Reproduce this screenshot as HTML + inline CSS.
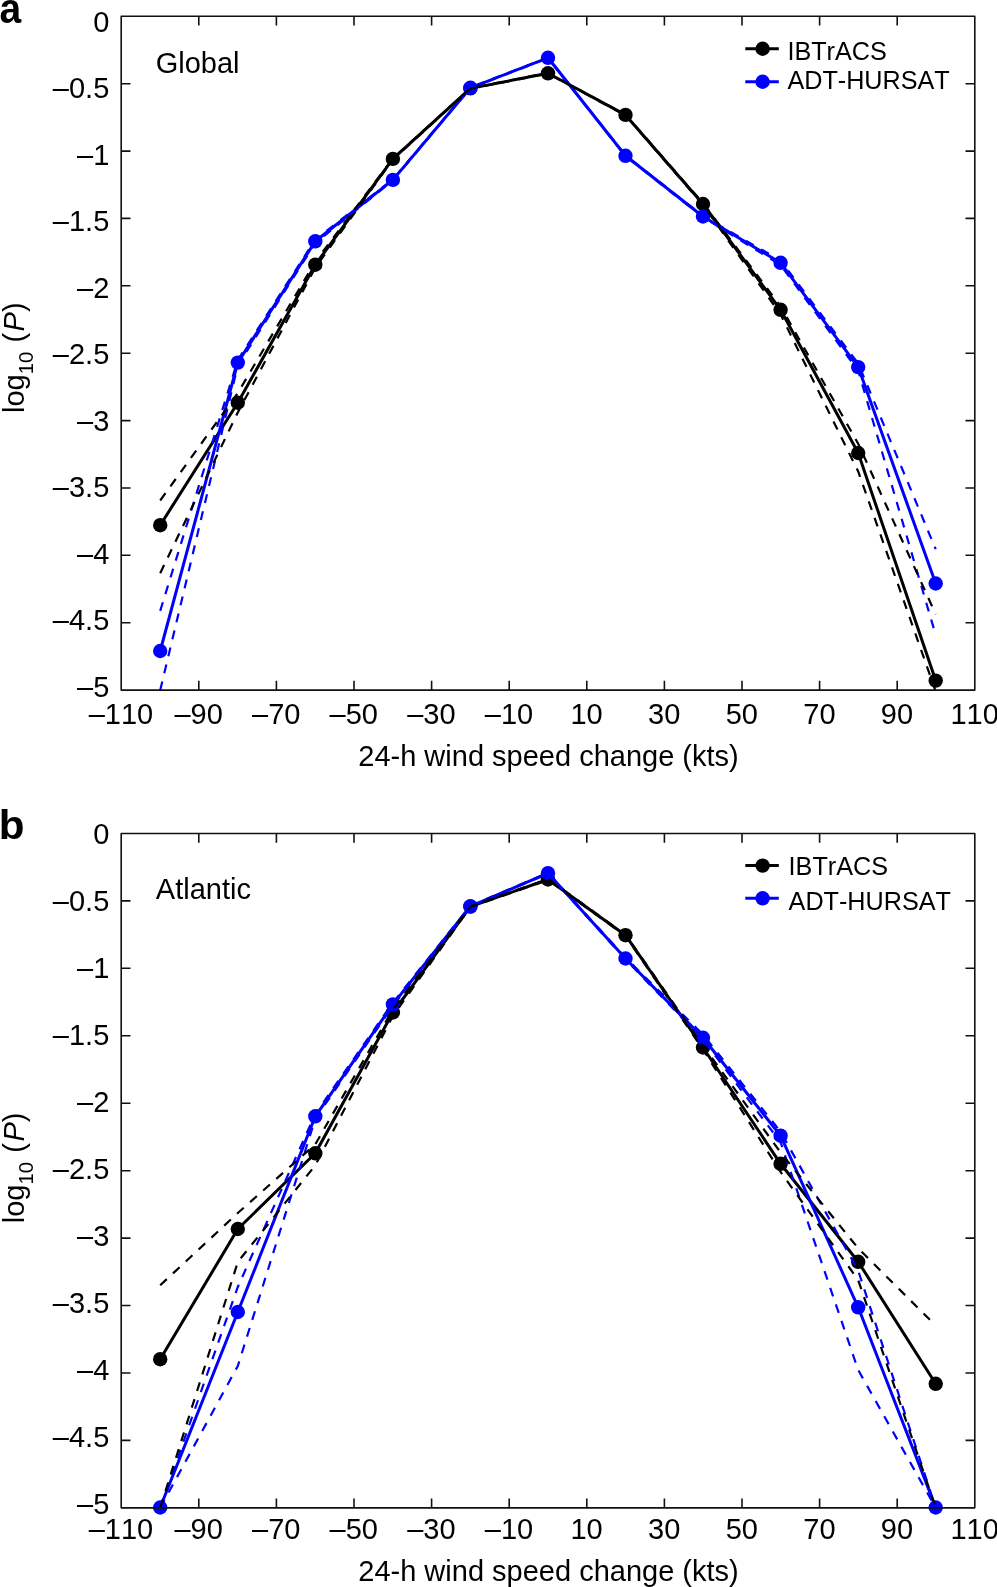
<!DOCTYPE html>
<html><head><meta charset="utf-8"><title>Figure</title>
<style>
html,body{margin:0;padding:0;background:#fff;}
body{width:997px;height:1587px;overflow:hidden;}
svg{display:block;will-change:transform;}
text{font-family:"Liberation Sans",sans-serif;fill:#000;}
.t{font-size:29px;}
.tk{font-size:29px;font-kerning:none;}
.lg{font-size:25.2px;font-kerning:none;}
.pn{font-size:41px;font-weight:bold;}
</style></head><body>
<svg width="997" height="1587" viewBox="0 0 997 1587">
<rect width="997" height="1587" fill="#fff"/>
<!-- panel a -->
<g>
<clipPath id="clipa"><rect x="121.2" y="16.3" width="853.6" height="674.7"/></clipPath>
<polyline points="160.2,525.2 237.8,402.7 315.3,264.7 392.9,158.9 470.4,88.4 548.0,73.3 625.5,114.9 703.0,204.0 780.6,309.8 858.2,453.0 935.7,680.6" fill="none" stroke="#000000" stroke-width="3" stroke-linejoin="round"/>
<g fill="#000000"><circle cx="160.2" cy="525.2" r="7.2"/><circle cx="237.8" cy="402.7" r="7.2"/><circle cx="315.3" cy="264.7" r="7.2"/><circle cx="392.9" cy="158.9" r="7.2"/><circle cx="470.4" cy="88.4" r="7.2"/><circle cx="548.0" cy="73.3" r="7.2"/><circle cx="625.5" cy="114.9" r="7.2"/><circle cx="703.0" cy="204.0" r="7.2"/><circle cx="780.6" cy="309.8" r="7.2"/><circle cx="858.2" cy="453.0" r="7.2"/><circle cx="935.7" cy="680.6" r="7.2"/></g>
<polyline points="160.2,651.0 237.8,362.6 315.3,241.3 392.9,179.9 470.4,87.8 548.0,57.8 625.5,155.8 703.0,216.5 780.6,262.8 858.2,367.1 935.7,583.5" fill="none" stroke="#0000ff" stroke-width="3" stroke-linejoin="round"/>
<g fill="#0000ff"><circle cx="160.2" cy="651.0" r="7.2"/><circle cx="237.8" cy="362.6" r="7.2"/><circle cx="315.3" cy="241.3" r="7.2"/><circle cx="392.9" cy="179.9" r="7.2"/><circle cx="470.4" cy="87.8" r="7.2"/><circle cx="548.0" cy="57.8" r="7.2"/><circle cx="625.5" cy="155.8" r="7.2"/><circle cx="703.0" cy="216.5" r="7.2"/><circle cx="780.6" cy="262.8" r="7.2"/><circle cx="858.2" cy="367.1" r="7.2"/><circle cx="935.7" cy="583.5" r="7.2"/></g>
<g clip-path="url(#clipa)" fill="none" stroke-width="2.2" stroke-dasharray="9 8.5">
<polyline points="160.2,610.8 237.8,360.0 315.3,239.6 392.9,179.4 470.4,87.5 548.0,57.5 625.5,155.4 703.0,215.9 780.6,260.6 858.2,363.5 935.7,549.2" stroke="#0000ff"/>
<polyline points="160.2,690.3 237.8,365.4 315.3,243.0 392.9,180.4 470.4,88.1 548.0,58.1 625.5,156.2 703.0,217.1 780.6,265.0 858.2,370.7 935.7,635.0" stroke="#0000ff"/>
<polyline points="160.2,500.5 237.8,393.0 315.3,261.7 392.9,158.3 470.4,88.1 548.0,73.0 625.5,114.5 703.0,203.2 780.6,306.3 858.2,443.7 935.7,614.2" stroke="#000000"/>
<polyline points="160.2,573.2 237.8,412.4 315.3,267.7 392.9,159.5 470.4,88.7 548.0,73.6 625.5,115.3 703.0,204.8 780.6,314.5 858.2,471.5 935.7,691.5" stroke="#000000"/>
</g>
<rect x="121.20" y="16.30" width="853.60" height="673.80" fill="none" stroke="#111111" stroke-width="1.6" stroke-linejoin="round"/>
<path d="M198.8 16.3v9.3M198.8 690.1v-9.3M276.4 16.3v9.3M276.4 690.1v-9.3M354.0 16.3v9.3M354.0 690.1v-9.3M431.6 16.3v9.3M431.6 690.1v-9.3M509.2 16.3v9.3M509.2 690.1v-9.3M586.8 16.3v9.3M586.8 690.1v-9.3M664.4 16.3v9.3M664.4 690.1v-9.3M742.0 16.3v9.3M742.0 690.1v-9.3M819.6 16.3v9.3M819.6 690.1v-9.3M897.2 16.3v9.3M897.2 690.1v-9.3M121.2 83.7h9.3M974.8 83.7h-9.3M121.2 151.1h9.3M974.8 151.1h-9.3M121.2 218.4h9.3M974.8 218.4h-9.3M121.2 285.8h9.3M974.8 285.8h-9.3M121.2 353.2h9.3M974.8 353.2h-9.3M121.2 420.6h9.3M974.8 420.6h-9.3M121.2 488.0h9.3M974.8 488.0h-9.3M121.2 555.3h9.3M974.8 555.3h-9.3M121.2 622.7h9.3M974.8 622.7h-9.3" fill="none" stroke="#111111" stroke-width="1.6"/>
<text class="tk" x="109.3" y="31.6" text-anchor="end">0</text><text class="tk" x="109.3" y="98.1" text-anchor="end">–0.5</text><text class="tk" x="109.3" y="164.7" text-anchor="end">–1</text><text class="tk" x="109.3" y="231.2" text-anchor="end">–1.5</text><text class="tk" x="109.3" y="297.7" text-anchor="end">–2</text><text class="tk" x="109.3" y="364.2" text-anchor="end">–2.5</text><text class="tk" x="109.3" y="430.8" text-anchor="end">–3</text><text class="tk" x="109.3" y="497.3" text-anchor="end">–3.5</text><text class="tk" x="109.3" y="563.8" text-anchor="end">–4</text><text class="tk" x="109.3" y="630.4" text-anchor="end">–4.5</text><text class="tk" x="109.3" y="696.9" text-anchor="end">–5</text>
<text class="tk" x="121.0" y="723.7" text-anchor="middle">–110</text><text class="tk" x="198.6" y="723.7" text-anchor="middle">–90</text><text class="tk" x="276.2" y="723.7" text-anchor="middle">–70</text><text class="tk" x="353.8" y="723.7" text-anchor="middle">–50</text><text class="tk" x="431.4" y="723.7" text-anchor="middle">–30</text><text class="tk" x="509.0" y="723.7" text-anchor="middle">–10</text><text class="tk" x="586.6" y="723.7" text-anchor="middle">10</text><text class="tk" x="664.2" y="723.7" text-anchor="middle">30</text><text class="tk" x="741.8" y="723.7" text-anchor="middle">50</text><text class="tk" x="819.4" y="723.7" text-anchor="middle">70</text><text class="tk" x="897.0" y="723.7" text-anchor="middle">90</text><text class="tk" x="974.6" y="723.7" text-anchor="middle">110</text>
<text class="t" x="548.5" y="765.5" text-anchor="middle">24-h wind speed change (kts)</text>
<text class="t" transform="translate(24 413.0) rotate(-90)">log<tspan font-size="20.4" dy="8.8">10</tspan><tspan dy="-8.8" dx="1"> (</tspan><tspan font-style="italic" dx="1.5">P</tspan>)</text>
<text class="t" x="155.7" y="72.7">Global</text>
<text class="pn" transform="translate(-0.4 23.2) scale(0.95 1.05)">a</text>
<path d="M745.3 48.75H778.8" stroke="#000000" stroke-width="3" fill="none"/><circle cx="762.6" cy="48.75" r="7.2" fill="#000000"/><text class="lg" x="787.4" y="59.6">IBTrACS</text>
<path d="M745.3 81.75H778.8" stroke="#0000ff" stroke-width="3" fill="none"/><circle cx="762.6" cy="81.75" r="7.2" fill="#0000ff"/><text class="lg" x="787.4" y="89.1">ADT-HURSAT</text>
</g>
<!-- panel b -->
<g>
<clipPath id="clipb"><rect x="121.2" y="833.5" width="853.6" height="675.3"/></clipPath>
<polyline points="160.2,1359.2 237.8,1229.0 315.3,1153.3 392.9,1012.5 470.4,906.6 548.0,879.5 625.5,935.2 703.0,1047.5 780.6,1163.8 858.2,1261.8 935.7,1383.8" fill="none" stroke="#000000" stroke-width="3" stroke-linejoin="round"/>
<g fill="#000000"><circle cx="160.2" cy="1359.2" r="7.2"/><circle cx="237.8" cy="1229.0" r="7.2"/><circle cx="315.3" cy="1153.3" r="7.2"/><circle cx="392.9" cy="1012.5" r="7.2"/><circle cx="470.4" cy="906.6" r="7.2"/><circle cx="548.0" cy="879.5" r="7.2"/><circle cx="625.5" cy="935.2" r="7.2"/><circle cx="703.0" cy="1047.5" r="7.2"/><circle cx="780.6" cy="1163.8" r="7.2"/><circle cx="858.2" cy="1261.8" r="7.2"/><circle cx="935.7" cy="1383.8" r="7.2"/></g>
<polyline points="160.2,1507.5 237.8,1312.0 315.3,1116.3 392.9,1004.4 470.4,906.3 548.0,873.2 625.5,958.5 703.0,1037.8 780.6,1135.7 858.2,1307.3 935.7,1507.5" fill="none" stroke="#0000ff" stroke-width="3" stroke-linejoin="round"/>
<g fill="#0000ff"><circle cx="160.2" cy="1507.5" r="7.2"/><circle cx="237.8" cy="1312.0" r="7.2"/><circle cx="315.3" cy="1116.3" r="7.2"/><circle cx="392.9" cy="1004.4" r="7.2"/><circle cx="470.4" cy="906.3" r="7.2"/><circle cx="548.0" cy="873.2" r="7.2"/><circle cx="625.5" cy="958.5" r="7.2"/><circle cx="703.0" cy="1037.8" r="7.2"/><circle cx="780.6" cy="1135.7" r="7.2"/><circle cx="858.2" cy="1307.3" r="7.2"/><circle cx="935.7" cy="1507.5" r="7.2"/></g>
<g clip-path="url(#clipb)" fill="none" stroke-width="2.2" stroke-dasharray="9 8.5">
<polyline points="160.2,1507.8 237.8,1287.0 315.3,1114.0 392.9,1002.6 470.4,905.8 548.0,872.8 625.5,957.6 703.0,1034.6 780.6,1131.7 858.2,1270.7 935.7,1507.8" stroke="#0000ff"/>
<polyline points="160.2,1507.8 237.8,1366.0 315.3,1118.6 392.9,1006.0 470.4,906.8 548.0,873.6 625.5,959.4 703.0,1039.5 780.6,1142.3 858.2,1370.0 935.7,1507.8" stroke="#0000ff"/>
<polyline points="160.2,1285.3 237.8,1213.0 315.3,1144.3 392.9,1009.3 470.4,906.2 548.0,879.0 625.5,934.6 703.0,1045.5 780.6,1152.5 858.2,1248.3 935.7,1325.6" stroke="#000000"/>
<polyline points="160.2,1507.8 237.8,1262.0 315.3,1165.3 392.9,1016.0 470.4,907.0 548.0,880.0 625.5,935.8 703.0,1049.5 780.6,1172.0 858.2,1280.0 935.7,1507.8" stroke="#000000"/>
</g>
<rect x="121.20" y="833.45" width="853.60" height="674.40" fill="none" stroke="#111111" stroke-width="1.6" stroke-linejoin="round"/>
<path d="M198.8 833.5v9.3M198.8 1507.8v-9.3M276.4 833.5v9.3M276.4 1507.8v-9.3M354.0 833.5v9.3M354.0 1507.8v-9.3M431.6 833.5v9.3M431.6 1507.8v-9.3M509.2 833.5v9.3M509.2 1507.8v-9.3M586.8 833.5v9.3M586.8 1507.8v-9.3M664.4 833.5v9.3M664.4 1507.8v-9.3M742.0 833.5v9.3M742.0 1507.8v-9.3M819.6 833.5v9.3M819.6 1507.8v-9.3M897.2 833.5v9.3M897.2 1507.8v-9.3M121.2 900.9h9.3M974.8 900.9h-9.3M121.2 968.3h9.3M974.8 968.3h-9.3M121.2 1035.8h9.3M974.8 1035.8h-9.3M121.2 1103.2h9.3M974.8 1103.2h-9.3M121.2 1170.7h9.3M974.8 1170.7h-9.3M121.2 1238.1h9.3M974.8 1238.1h-9.3M121.2 1305.5h9.3M974.8 1305.5h-9.3M121.2 1373.0h9.3M974.8 1373.0h-9.3M121.2 1440.4h9.3M974.8 1440.4h-9.3" fill="none" stroke="#111111" stroke-width="1.6"/>
<text class="tk" x="109.3" y="844.4" text-anchor="end">0</text><text class="tk" x="109.3" y="911.4" text-anchor="end">–0.5</text><text class="tk" x="109.3" y="978.3" text-anchor="end">–1</text><text class="tk" x="109.3" y="1045.2" text-anchor="end">–1.5</text><text class="tk" x="109.3" y="1112.2" text-anchor="end">–2</text><text class="tk" x="109.3" y="1179.2" text-anchor="end">–2.5</text><text class="tk" x="109.3" y="1246.1" text-anchor="end">–3</text><text class="tk" x="109.3" y="1313.0" text-anchor="end">–3.5</text><text class="tk" x="109.3" y="1380.0" text-anchor="end">–4</text><text class="tk" x="109.3" y="1447.0" text-anchor="end">–4.5</text><text class="tk" x="109.3" y="1513.9" text-anchor="end">–5</text>
<text class="tk" x="121.0" y="1538.5" text-anchor="middle">–110</text><text class="tk" x="198.6" y="1538.5" text-anchor="middle">–90</text><text class="tk" x="276.2" y="1538.5" text-anchor="middle">–70</text><text class="tk" x="353.8" y="1538.5" text-anchor="middle">–50</text><text class="tk" x="431.4" y="1538.5" text-anchor="middle">–30</text><text class="tk" x="509.0" y="1538.5" text-anchor="middle">–10</text><text class="tk" x="586.6" y="1538.5" text-anchor="middle">10</text><text class="tk" x="664.2" y="1538.5" text-anchor="middle">30</text><text class="tk" x="741.8" y="1538.5" text-anchor="middle">50</text><text class="tk" x="819.4" y="1538.5" text-anchor="middle">70</text><text class="tk" x="897.0" y="1538.5" text-anchor="middle">90</text><text class="tk" x="974.6" y="1538.5" text-anchor="middle">110</text>
<text class="t" x="548.5" y="1581.2" text-anchor="middle">24-h wind speed change (kts)</text>
<text class="t" transform="translate(24 1223.2) rotate(-90)">log<tspan font-size="20.4" dy="8.8">10</tspan><tspan dy="-8.8" dx="1"> (</tspan><tspan font-style="italic" dx="1.5">P</tspan>)</text>
<text class="t" x="155.8" y="898.7">Atlantic</text>
<text class="pn" transform="translate(-1.2 838.7) scale(1.03 1.0)">b</text>
<path d="M745.3 865.60H778.8" stroke="#000000" stroke-width="3" fill="none"/><circle cx="762.6" cy="865.60" r="7.2" fill="#000000"/><text class="lg" x="788.6" y="874.5">IBTrACS</text>
<path d="M745.3 898.30H778.8" stroke="#0000ff" stroke-width="3" fill="none"/><circle cx="762.6" cy="898.30" r="7.2" fill="#0000ff"/><text class="lg" x="788.6" y="910.4">ADT-HURSAT</text>
</g>
</svg>
</body></html>
